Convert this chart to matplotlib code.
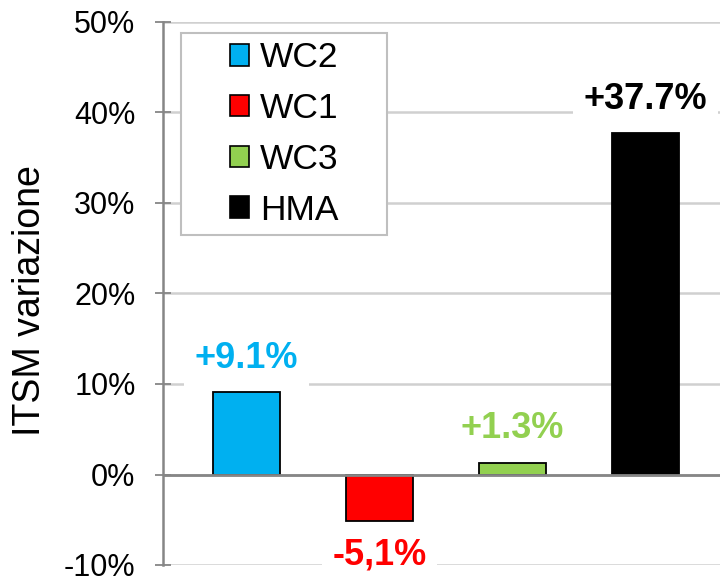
import matplotlib
matplotlib.use("Agg")
import matplotlib.pyplot as plt
from matplotlib.patches import Patch, Rectangle
from matplotlib.ticker import FuncFormatter

plt.rcParams['font.family'] = ['Liberation Sans', 'DejaVu Sans']

categories = ["WC2", "WC1", "WC3", "HMA"]
values = [9.1, -5.1, 1.3, 37.7]
labels = ["+9.1%", "-5,1%", "+1.3%", "+37.7%"]
colors = ["#00B0F0", "#FF0000", "#92D050", "#000000"]
label_colors = ["#00B0F0", "#FF0000", "#92D050", "#000000"]
yticks = [-10, 0, 10, 20, 30, 40, 50]
ylabel = "ITSM variazione"

fig = plt.figure(figsize=(7.2, 5.77), dpi=100)
ax = fig.add_axes([163/720, 12/577, 557/720, 543/577])

x = list(range(len(categories)))
ax.bar(x, values, width=0.5, color=colors, edgecolor="black", linewidth=1.3, zorder=3)

ax.set_xlim(-0.628, 3.56)
ax.set_ylim(-10, 50)
ax.set_yticks(yticks)
ax.yaxis.set_major_formatter(FuncFormatter(lambda v, p: f"{v:.0f}%"))
ax.set_xticks([])

ax.grid(axis="y", color="#d0d0d0", linewidth=1.8, zorder=0)
ax.axhline(0, color="#868686", linewidth=2, zorder=4)

for s in ["top", "right", "bottom"]:
    ax.spines[s].set_visible(False)
ax.spines["left"].set_color("#868686")
ax.spines["left"].set_linewidth(1.8)
ax.tick_params(axis="y", direction="inout", length=11.5, width=1.3, color="#868686",
               labelsize=22, pad=14, labelcolor="black")

for xi, v, lab, c in zip(x, values, labels, label_colors):
    off = 24.5 if v >= 0 else -24.5
    ax.annotate(lab, (xi, v), xytext=(0, off), textcoords="offset points",
                ha="center", va="center", fontsize=26, fontweight="bold", color=c,
                bbox=dict(boxstyle="square,pad=0.3", facecolor="white", edgecolor="none"),
                zorder=5)

fig.text(30/720, 1 - 301/577, ylabel, rotation=90, ha="center", va="center", fontsize=27)

# legend frame
fx0, fx1, fy0, fy1 = 181, 387, 33, 235
rect = Rectangle((fx0/720, 1 - fy1/577), (fx1-fx0)/720, (fy1-fy0)/577,
                 transform=fig.transFigure, facecolor="white", edgecolor="#bfbfbf",
                 linewidth=1.5, zorder=10)
fig.patches.append(rect)

handles = [Patch(facecolor=c, edgecolor="black", linewidth=1.2) for c in colors]
leg = fig.legend(handles, categories, loc="center",
                 bbox_to_anchor=((fx0+fx1)/2/720, 1 - (fy0+fy1)/2/577),
                 frameon=False, fontsize=25.5, handlelength=0.55, handleheight=0.55,
                 handletextpad=0.3, labelspacing=0.5, borderpad=0.2)
leg.set_zorder(11)

fig.savefig("out.png", dpi=100)
